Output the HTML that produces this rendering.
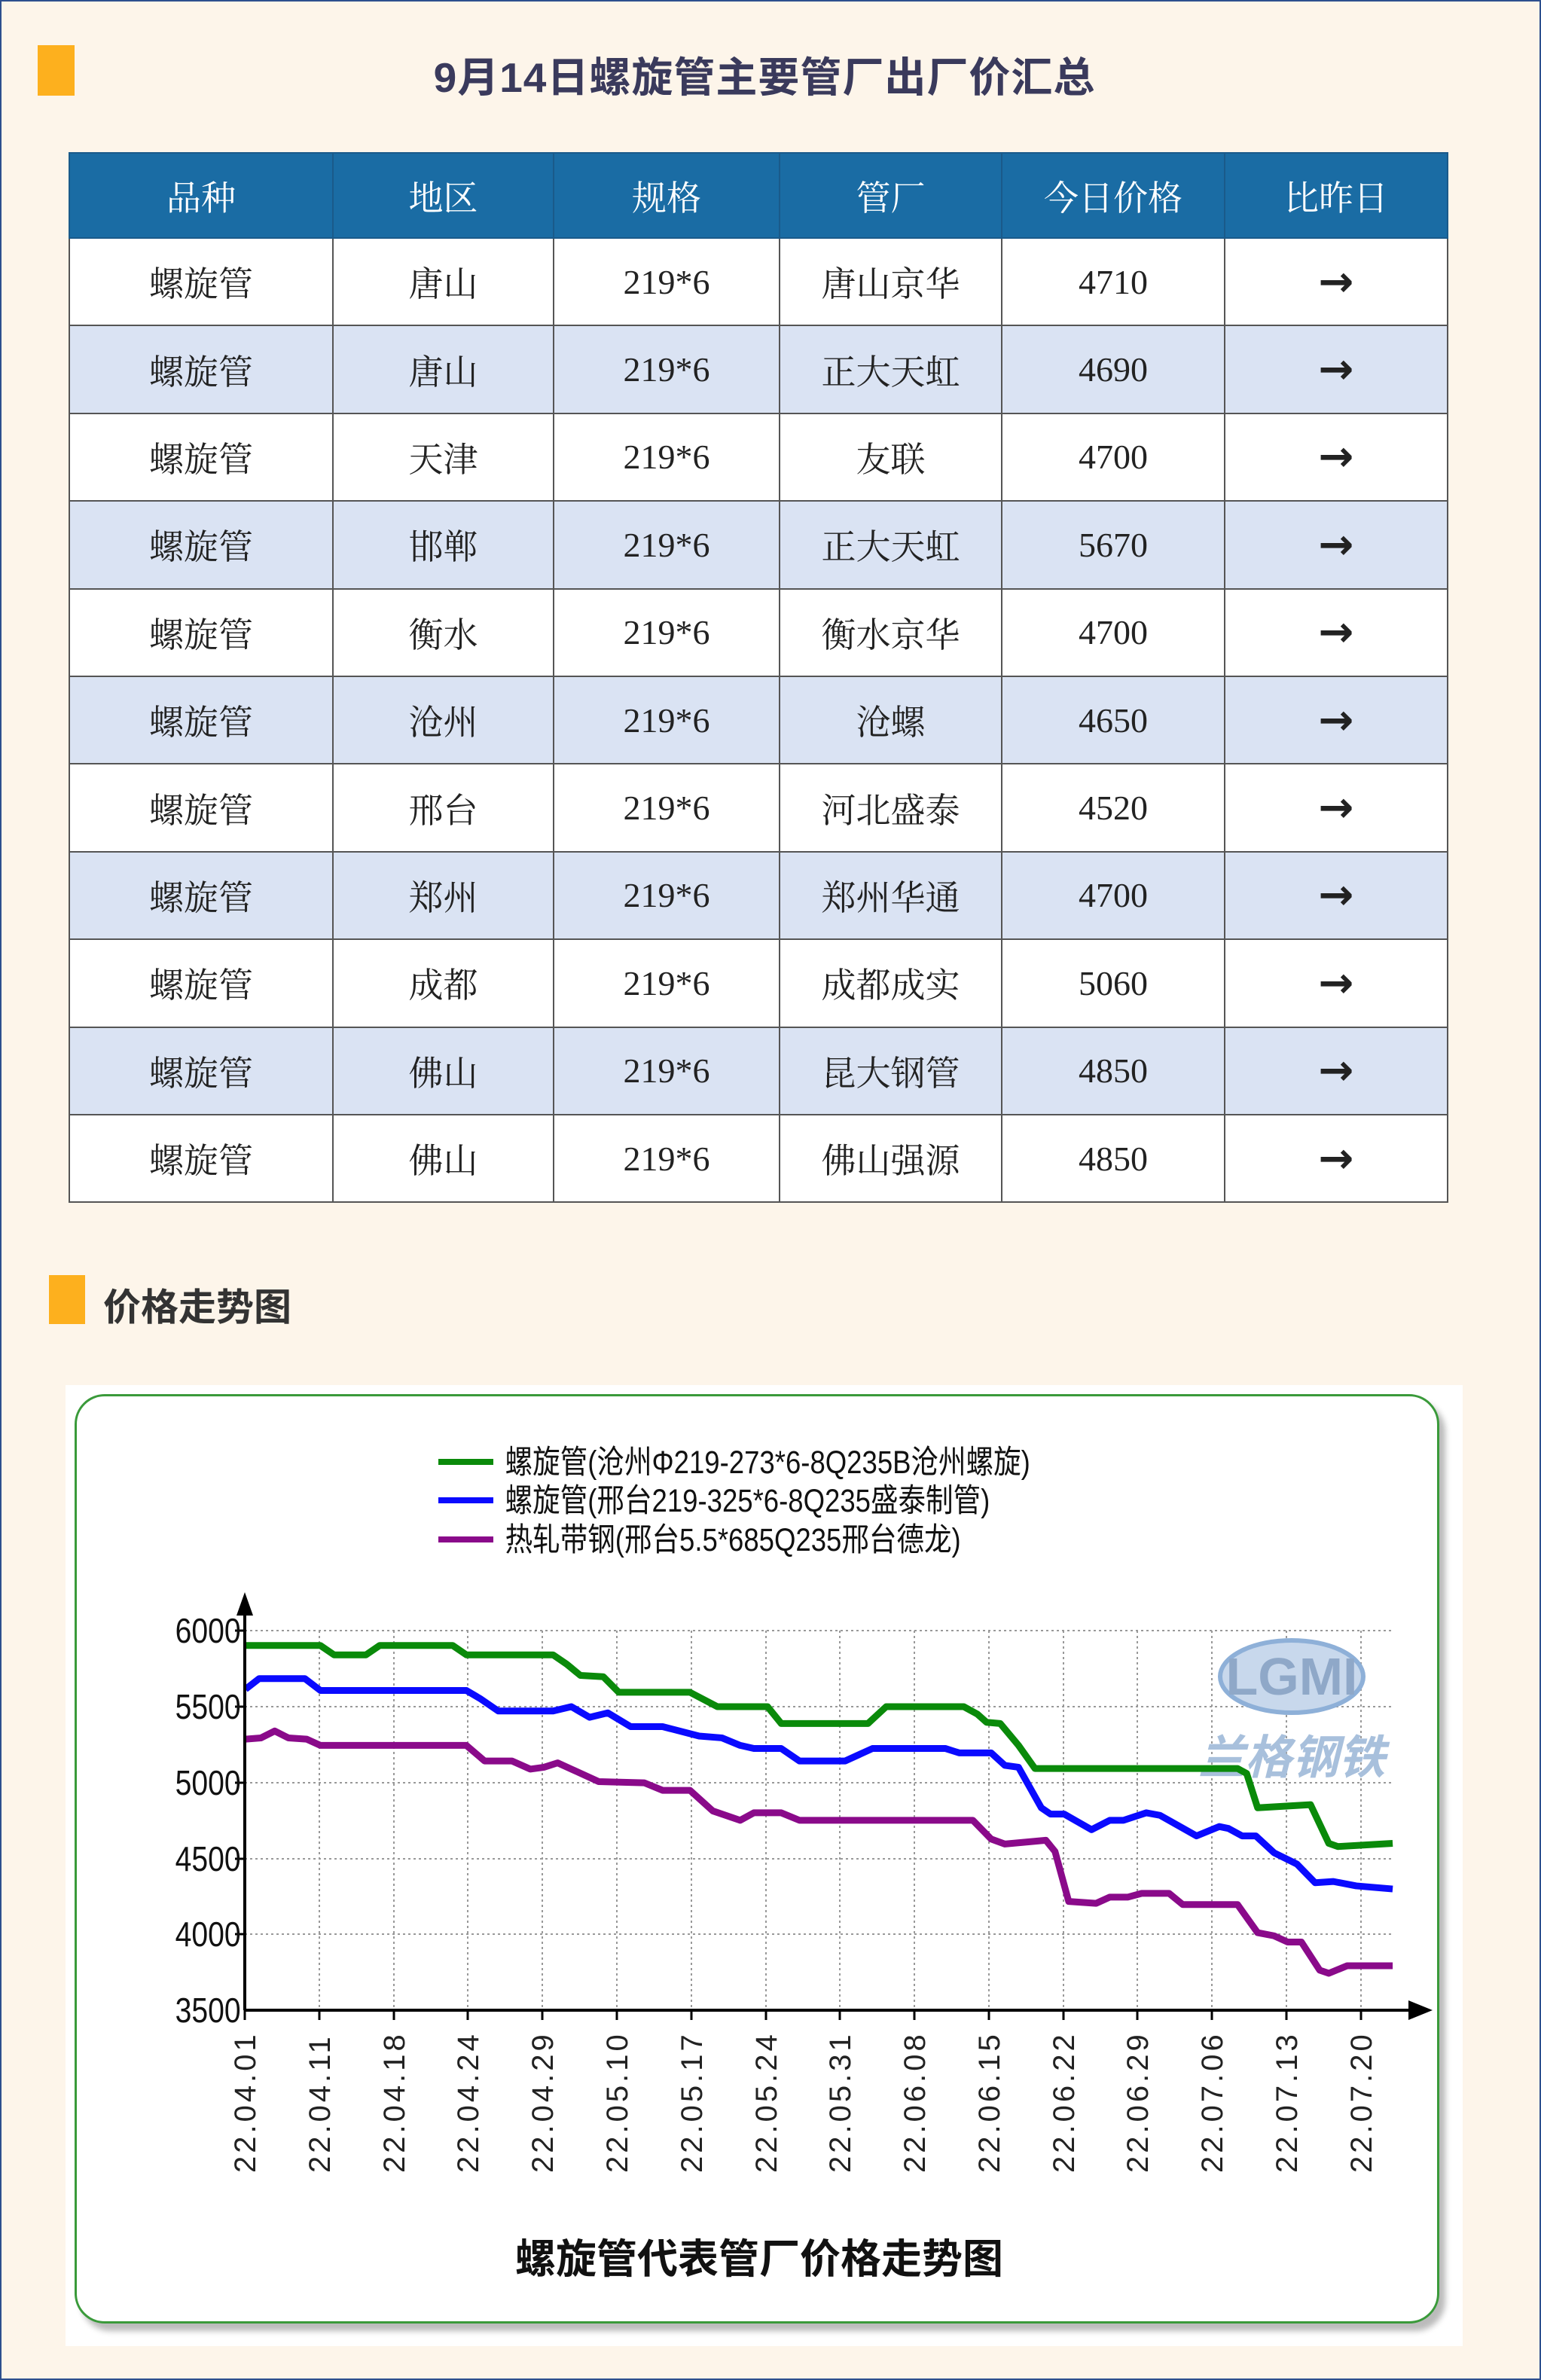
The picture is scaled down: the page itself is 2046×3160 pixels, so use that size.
<!DOCTYPE html>
<html><head><meta charset="utf-8"><style>
*{margin:0;padding:0;box-sizing:border-box}
body{width:2046px;height:3160px;background:#fdf5ea;position:relative;overflow:hidden;border:2px solid #2d4f8e;font-family:"Liberation Serif","Noto Serif CJK SC",serif}
.bar{position:absolute;background:#fdb01e}
.title{position:absolute;left:-10px;width:2046px;top:56px;text-align:center;font:bold 55px "Liberation Sans","Noto Sans CJK SC",sans-serif;color:#3a3a5c;letter-spacing:1px}
table{position:absolute;left:89px;top:200px;border-collapse:collapse;table-layout:fixed}
td,th{text-align:center;font-size:46px;color:#222;font-weight:normal;border:2px solid #555}
th{background:#1a6ca4;color:#fff;height:113px;border-color:#1a5a8a}
td{height:116.4px}
td.a{font-size:56px;font-weight:bold;font-family:"DejaVu Sans",sans-serif}
tr:nth-child(odd) td{background:#dae3f3}
.sec{position:absolute;left:135px;top:1694px;font:bold 50px "Liberation Sans","Noto Sans CJK SC",sans-serif;color:#333}
.chart{position:absolute;left:85px;top:1837px;width:1855px;height:1276px;background:#fff}
.box{position:absolute;left:97px;top:1849px;width:1812px;height:1234px;border:3px solid #3a9a3a;border-radius:40px;box-shadow:8px 10px 8px #bbb;background:#fff}
svg{position:absolute;left:-2px;top:-2px}
</style></head><body>
<div class="bar" style="left:48px;top:58px;width:49px;height:67px"></div>
<div class="title">9月14日螺旋管主要管厂出厂价汇总</div>
<table>
<colgroup><col style="width:350px"><col style="width:293px"><col style="width:300px"><col style="width:295px"><col style="width:296px"><col style="width:296px"></colgroup>
<tr><th>品种</th><th>地区</th><th>规格</th><th>管厂</th><th>今日价格</th><th>比昨日</th></tr>
<tr><td style="background:#fff">螺旋管</td><td style="background:#fff">唐山</td><td style="background:#fff">219*6</td><td style="background:#fff">唐山京华</td><td style="background:#fff">4710</td><td class="a" style="background:#fff">→</td></tr>
<tr><td>螺旋管</td><td>唐山</td><td>219*6</td><td>正大天虹</td><td>4690</td><td class="a">→</td></tr>
<tr><td style="background:#fff">螺旋管</td><td style="background:#fff">天津</td><td style="background:#fff">219*6</td><td style="background:#fff">友联</td><td style="background:#fff">4700</td><td class="a" style="background:#fff">→</td></tr>
<tr><td>螺旋管</td><td>邯郸</td><td>219*6</td><td>正大天虹</td><td>5670</td><td class="a">→</td></tr>
<tr><td style="background:#fff">螺旋管</td><td style="background:#fff">衡水</td><td style="background:#fff">219*6</td><td style="background:#fff">衡水京华</td><td style="background:#fff">4700</td><td class="a" style="background:#fff">→</td></tr>
<tr><td>螺旋管</td><td>沧州</td><td>219*6</td><td>沧螺</td><td>4650</td><td class="a">→</td></tr>
<tr><td style="background:#fff">螺旋管</td><td style="background:#fff">邢台</td><td style="background:#fff">219*6</td><td style="background:#fff">河北盛泰</td><td style="background:#fff">4520</td><td class="a" style="background:#fff">→</td></tr>
<tr><td>螺旋管</td><td>郑州</td><td>219*6</td><td>郑州华通</td><td>4700</td><td class="a">→</td></tr>
<tr><td style="background:#fff">螺旋管</td><td style="background:#fff">成都</td><td style="background:#fff">219*6</td><td style="background:#fff">成都成实</td><td style="background:#fff">5060</td><td class="a" style="background:#fff">→</td></tr>
<tr><td>螺旋管</td><td>佛山</td><td>219*6</td><td>昆大钢管</td><td>4850</td><td class="a">→</td></tr>
<tr><td style="background:#fff">螺旋管</td><td style="background:#fff">佛山</td><td style="background:#fff">219*6</td><td style="background:#fff">佛山强源</td><td style="background:#fff">4850</td><td class="a" style="background:#fff">→</td></tr>
</table>
<div class="bar" style="left:63px;top:1691px;width:48px;height:65px"></div>
<div class="sec">价格走势图</div>
<div class="chart"></div>
<div class="box"></div>
<svg width="2046" height="3160" font-family="Liberation Sans, Noto Sans CJK SC, sans-serif">
<g stroke="#999" stroke-width="2" stroke-dasharray="3,4">
<line x1="325" y1="2165" x2="1849" y2="2165"/><line x1="325" y1="2266" x2="1849" y2="2266"/><line x1="325" y1="2367" x2="1849" y2="2367"/><line x1="325" y1="2468" x2="1849" y2="2468"/><line x1="325" y1="2568" x2="1849" y2="2568"/>
<line x1="424" y1="2165" x2="424" y2="2669"/><line x1="523" y1="2165" x2="523" y2="2669"/><line x1="621" y1="2165" x2="621" y2="2669"/><line x1="720" y1="2165" x2="720" y2="2669"/><line x1="819" y1="2165" x2="819" y2="2669"/><line x1="918" y1="2165" x2="918" y2="2669"/><line x1="1017" y1="2165" x2="1017" y2="2669"/><line x1="1115" y1="2165" x2="1115" y2="2669"/><line x1="1214" y1="2165" x2="1214" y2="2669"/><line x1="1313" y1="2165" x2="1313" y2="2669"/><line x1="1412" y1="2165" x2="1412" y2="2669"/><line x1="1510" y1="2165" x2="1510" y2="2669"/><line x1="1609" y1="2165" x2="1609" y2="2669"/><line x1="1708" y1="2165" x2="1708" y2="2669"/><line x1="1807" y1="2165" x2="1807" y2="2669"/>
</g>
<ellipse cx="1715" cy="2226" rx="95" ry="48" fill="#c8d8ec" stroke="#8eb0d8" stroke-width="6"/>
<text x="1715" y="2250" text-anchor="middle" font-size="70" font-weight="bold" fill="#8fa8c8">LGMI</text>
<text x="1715" y="2355" text-anchor="middle" font-size="62" font-weight="bold" fill="#a8c0dc" font-style="italic">兰格钢铁</text>
<g transform="translate(80,1820) scale(1.2117,0.829)" fill="none" stroke-width="9" stroke-linejoin="round">
<polyline vector-effect="non-scaling-stroke" stroke="#0a8a0a" points="203,440 285,440 300,455 335,455 350,440 430,440 445,455 540,455 555,470 570,488 595,490 612,515 690,515 720,538 775,538 790,565 885,565 905,538 990,538 1005,550 1015,563 1030,565 1050,600 1068,637 1290,637 1300,645 1312,700 1370,695 1390,757 1400,762 1460,757"/>
<polyline vector-effect="non-scaling-stroke" stroke="#0a0aff" points="203,510 218,493 268,493 285,512 445,512 460,525 480,545 540,545 560,538 580,555 600,548 625,570 660,570 700,585 725,588 745,600 760,605 790,605 810,625 860,625 890,605 970,605 985,612 1020,612 1035,632 1050,635 1075,700 1085,710 1100,710 1130,735 1150,720 1165,720 1190,708 1205,712 1245,745 1270,730 1280,733 1295,745 1310,745 1330,772 1355,790 1375,820 1395,818 1420,825 1460,830"/>
<polyline vector-effect="non-scaling-stroke" stroke="#8a0a8a" points="203,590 220,588 235,577 250,588 270,590 285,600 445,600 465,625 495,625 515,638 530,635 545,628 590,658 640,660 660,672 690,672 715,705 745,720 760,708 790,708 810,720 1000,720 1020,750 1035,758 1080,752 1090,770 1105,850 1135,853 1150,843 1170,843 1185,837 1215,837 1230,855 1290,855 1312,900 1330,905 1345,915 1360,915 1380,960 1390,965 1410,953 1460,953"/>
</g>
<g stroke="#000" stroke-width="4">
<line x1="325" y1="2130" x2="325" y2="2669"/><line x1="325" y1="2669" x2="1880" y2="2669"/>
<g stroke-width="3"><line x1="325" y1="2669" x2="325" y2="2682"/><line x1="424" y1="2669" x2="424" y2="2682"/><line x1="523" y1="2669" x2="523" y2="2682"/><line x1="621" y1="2669" x2="621" y2="2682"/><line x1="720" y1="2669" x2="720" y2="2682"/><line x1="819" y1="2669" x2="819" y2="2682"/><line x1="918" y1="2669" x2="918" y2="2682"/><line x1="1017" y1="2669" x2="1017" y2="2682"/><line x1="1115" y1="2669" x2="1115" y2="2682"/><line x1="1214" y1="2669" x2="1214" y2="2682"/><line x1="1313" y1="2669" x2="1313" y2="2682"/><line x1="1412" y1="2669" x2="1412" y2="2682"/><line x1="1510" y1="2669" x2="1510" y2="2682"/><line x1="1609" y1="2669" x2="1609" y2="2682"/><line x1="1708" y1="2669" x2="1708" y2="2682"/><line x1="1807" y1="2669" x2="1807" y2="2682"/>
<line x1="312" y1="2165" x2="325" y2="2165"/><line x1="312" y1="2266" x2="325" y2="2266"/><line x1="312" y1="2367" x2="325" y2="2367"/><line x1="312" y1="2468" x2="325" y2="2468"/><line x1="312" y1="2568" x2="325" y2="2568"/></g>
</g>
<polygon points="325,2114 314,2145 336,2145" fill="#000"/>
<polygon points="1902,2669 1870,2656 1870,2682" fill="#000"/>
<g font-size="46" text-anchor="end" fill="#111" transform="scale(0.85,1)">
<text x="376" y="2181">6000</text><text x="376" y="2282">5500</text><text x="376" y="2383">5000</text><text x="376" y="2484">4500</text><text x="376" y="2584">4000</text><text x="376" y="2685">3500</text>
</g>
<g font-size="40" fill="#222" letter-spacing="4">
<text transform="translate(339,2885) rotate(-90)">22.04.01</text><text transform="translate(438,2885) rotate(-90)">22.04.11</text><text transform="translate(537,2885) rotate(-90)">22.04.18</text><text transform="translate(635,2885) rotate(-90)">22.04.24</text><text transform="translate(734,2885) rotate(-90)">22.04.29</text><text transform="translate(833,2885) rotate(-90)">22.05.10</text><text transform="translate(932,2885) rotate(-90)">22.05.17</text><text transform="translate(1031,2885) rotate(-90)">22.05.24</text><text transform="translate(1129,2885) rotate(-90)">22.05.31</text><text transform="translate(1228,2885) rotate(-90)">22.06.08</text><text transform="translate(1327,2885) rotate(-90)">22.06.15</text><text transform="translate(1426,2885) rotate(-90)">22.06.22</text><text transform="translate(1524,2885) rotate(-90)">22.06.29</text><text transform="translate(1623,2885) rotate(-90)">22.07.06</text><text transform="translate(1722,2885) rotate(-90)">22.07.13</text><text transform="translate(1821,2885) rotate(-90)">22.07.20</text>
</g>
<g stroke-width="8"><line x1="582" y1="1941" x2="655" y2="1941" stroke="#0a8a0a"/><line x1="582" y1="1992" x2="655" y2="1992" stroke="#0a0aff"/><line x1="582" y1="2044" x2="655" y2="2044" stroke="#8a0a8a"/></g>
<g font-size="43" fill="#111" transform="scale(0.85,1)">
<text x="789" y="1956">螺旋管(沧州Φ219-273*6-8Q235B沧州螺旋)</text>
<text x="789" y="2007">螺旋管(邢台219-325*6-8Q235盛泰制管)</text>
<text x="789" y="2059">热轧带钢(邢台5.5*685Q235邢台德龙)</text>
</g>
<text x="1008" y="3018" text-anchor="middle" font-size="54" font-weight="bold" fill="#111">螺旋管代表管厂价格走势图</text>
</svg>
</body></html>
